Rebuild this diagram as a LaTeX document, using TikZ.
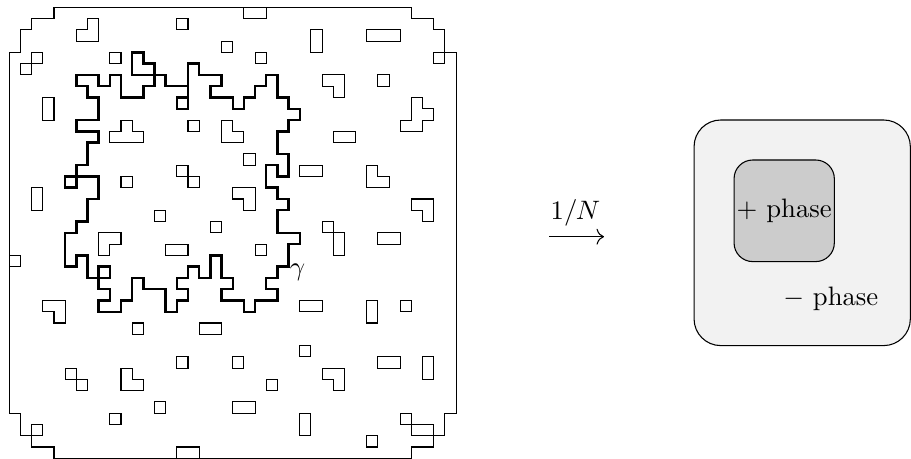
\documentclass[tikz,border=0pt]{standalone}
\usepackage{amsmath}
\usetikzlibrary{arrows.meta}
\begin{document}
\begin{tikzpicture}[x=0.375pt,y=-0.375pt,
  lat/.style={line width=0.4pt},
  gamline/.style={line width=0.9pt, line join=miter},
  roundbox/.style={draw, line width=0.4pt, inner sep=0pt},
  limitline/.style={line width=0.4pt, -{Computer Modern Rightarrow[length=2.8pt, width=6pt]}}]
\useasboundingbox (0,0) rectangle (911,459);
% ---------------- lattice ----------------
\begin{scope}[shift={(3.4875pt,-2.7375pt)}, x=4.18875pt, y=-4.228125pt, lat]
 % outer boundary
 \draw (4,0)--(36,0)--(36,1)--(38,1)--(38,2)--(39,2)--(39,4)--(40,4)--(40,36)--(39,36)--(39,38)--(38,38)--(38,39)--(36,39)--(36,40)--(4,40)--(4,39)--(2,39)--(2,38)--(1,38)--(1,36)--(0,36)--(0,4)--(1,4)--(1,2)--(2,2)--(2,1)--(4,1)--cycle;
 % unit squares
 \foreach \a/\b in {15/1, 2/4, 1/5, 9/4, 16/10, 10/15, 15/14, 16/15, 13/18, 18/19, 19/3, 22/4, 33/6, 21/13, 28/19, 38/4, 22/21, 0/22, 11/28, 35/26, 26/30, 20/31, 23/33, 35/36, 32/38, 15/31, 5/32, 6/33, 13/35, 9/36, 2/37}
   \draw (\a,\b) rectangle ++(1,1);
 % rectangles
 \foreach \a/\b/\c/\d in {3/8/4/10, 2/16/3/18, 21/0/23/1, 27/2/28/4, 32/2/35/3, 29/11/31/12, 26/14/28/15, 29/20/30/22, 33/20/35/21, 14/21/16/22, 17/28/19/29, 26/26/28/27, 32/26/33/28, 33/31/35/32, 37/31/38/33, 20/35/22/36, 26/36/27/38, 36/37/38/38, 15/39/17/40}
   \draw (\a,\b) rectangle (\c,\d);
 % L, T and other polyominoes
 \draw (6,2)--(7,2)--(7,1)--(8,1)--(8,3)--(6,3)--cycle;
 \draw (10,10)--(11,10)--(11,11)--(12,11)--(12,12)--(9,12)--(9,11)--(10,11)--cycle;
 \draw (19,10)--(20,10)--(20,11)--(21,11)--(21,12)--(19,12)--cycle;
 \draw (28,6)--(30,6)--(30,8)--(29,8)--(29,7)--(28,7)--cycle;
 \draw (36,8)--(37,8)--(37,9)--(38,9)--(38,10)--(37,10)--(37,11)--(35,11)--(35,10)--(36,10)--cycle;
 \draw (32,14)--(33,14)--(33,15)--(34,15)--(34,16)--(32,16)--cycle;
 \draw (20,16)--(22,16)--(22,18)--(21,18)--(21,17)--(20,17)--cycle;
 \draw (36,17)--(38,17)--(38,19)--(37,19)--(37,18)--(36,18)--cycle;
 \draw (8,20)--(10,20)--(10,21)--(9,21)--(9,22)--(8,22)--cycle;
 \draw (3,26)--(5,26)--(5,28)--(4,28)--(4,27)--(3,27)--cycle;
 \draw (28,32)--(30,32)--(30,34)--(29,34)--(29,33)--(28,33)--cycle;
 \draw (10,32)--(11,32)--(11,33)--(12,33)--(12,34)--(10,34)--cycle;
 % contour gamma
 \draw[gamline] (6,6)--(8,6)--(8,7)--(9,7)--(9,6)--(10,6)--(10,8)--(12,8)--(12,7)--(13,7)--(13,5)--(12,5)--(12,4)--(11,4)--(11,6)--(14,6)--(14,7)--(16,7)--(16,5)--(17,5)--(17,6)--(19,6)--(19,7)--(18,7)--(18,8)--(20,8)--(20,9)--(21,9)--(21,8)--(22,8)--(22,7)--(23,7)--(23,6)--(24,6)--(24,8)--(25,8)--(25,9)--(26,9)--(26,10)--(25,10)--(25,11)--(24,11)--(24,13)--(25,13)--(25,15)--(24,15)--(24,14)--(23,14)--(23,16)--(24,16)--(24,17)--(25,17)--(25,18)--(24,18)--(24,20)--(26,20)--(26,21)--(25,21)--(25,23)--(24,23)--(24,24)--(23,24)--(23,25)--(24,25)--(24,26)--(22,26)--(22,27)--(21,27)--(21,26)--(19,26)--(19,25)--(20,25)--(20,24)--(19,24)--(19,22)--(18,22)--(18,24)--(17,24)--(17,23)--(16,23)--(16,24)--(15,24)--(15,25)--(16,25)--(16,26)--(15,26)--(15,27)--(14,27)--(14,25)--(12,25)--(12,24)--(11,24)--(11,26)--(10,26)--(10,27)--(8,27)--(8,26)--(9,26)--(9,25)--(8,25)--(8,24)--(9,24)--(9,23)--(8,23)--(8,24)--(7,24)--(7,22)--(6,22)--(6,23)--(5,23)--(5,20)--(6,20)--(6,19)--(7,19)--(7,17)--(8,17)--(8,15)--(6,15)--(6,16)--(5,16)--(5,15)--(6,15)--(6,14)--(7,14)--(7,12)--(8,12)--(8,11)--(6,11)--(6,10)--(8,10)--(8,8)--(7,8)--(7,7)--(6,7)--cycle;
 \draw[gamline] (16,7)--(16,9)--(15,9)--(15,8)--(16,8);
\end{scope}
\node (gammalabel) at (297.5,272.5) {$\gamma$};
% ---------------- arrow ----------------
\coordinate (arrowstart) at (549.3,236.7);
\coordinate (arrowend) at (604,236.7);
\draw[limitline] (arrowstart) -- (arrowend);
\node[anchor=base, inner sep=0pt] (arrowlabel) at (575.5,220) {$1/N$};
% ---------------- phases ----------------
\node[roundbox, rounded corners=10pt, fill=black!5, minimum width=81.1pt, minimum height=84.6pt] (minusbox) at (802.2,232.8) {};
\node[roundbox, rounded corners=7pt, fill=black!20, minimum width=37.6pt, minimum height=38.1pt] (plusbox) at (784.2,210.8) {};
\node[inner sep=0pt] (plustext) at (plusbox.center) {$+$ phase};
\node[inner sep=0pt] (minustext) at (830.8,299) {$-$ phase};
\end{tikzpicture}
\end{document}
